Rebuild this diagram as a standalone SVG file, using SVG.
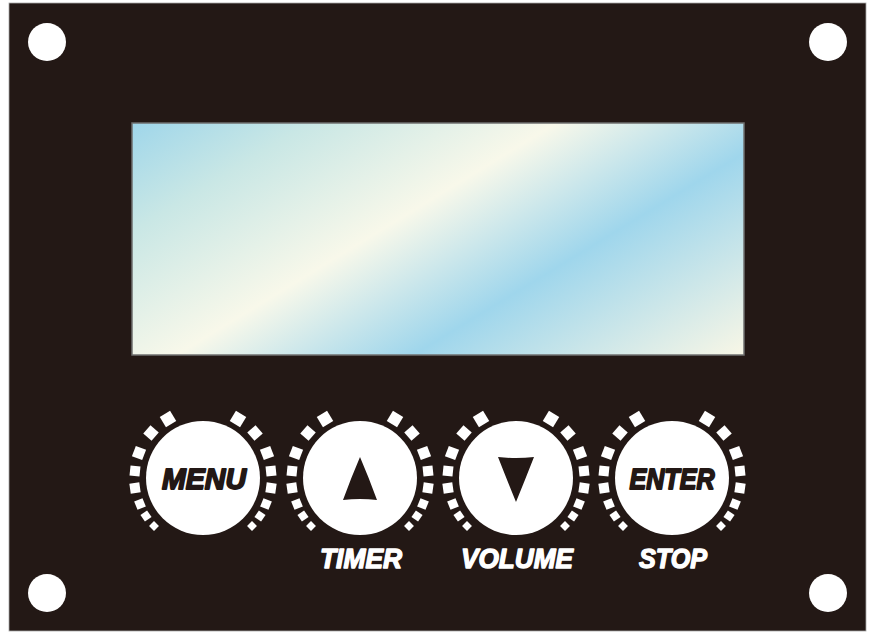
<svg xmlns="http://www.w3.org/2000/svg" width="871" height="637" viewBox="0 0 871 637">
<style>
.hole{fill:#ffffff}
.knob{fill:#ffffff}
.dot{fill:#ffffff}
.key{font-family:"Liberation Sans",Arial,sans-serif;font-weight:bold;font-style:italic;fill:#231815;stroke:#231815;stroke-width:1.8;stroke-linejoin:round;text-anchor:middle}
.lbl{font-family:"Liberation Sans",Arial,sans-serif;font-weight:bold;font-style:italic;fill:#ffffff;stroke:#ffffff;stroke-width:1.4;stroke-linejoin:round;text-anchor:middle}
</style>
<defs>
<linearGradient id="lcd" gradientUnits="userSpaceOnUse" x1="132" y1="123" x2="400" y2="562">
<stop offset="0" stop-color="#9fd6ea"/>
<stop offset="0.18" stop-color="#c9e7e5"/>
<stop offset="0.43" stop-color="#f8f8ea"/>
<stop offset="0.67" stop-color="#9fd6ec"/>
<stop offset="1" stop-color="#f7f6e6"/>
</linearGradient>
<g id="dots">
<rect class="dot" x="-6" y="-6" width="12" height="12" transform="translate(-35,-59) rotate(-31)"/>
<rect class="dot" x="-5.5" y="-5.5" width="11" height="11" transform="translate(-52,-45) rotate(41)"/>
<rect class="dot" x="-5.5" y="-5.5" width="11" height="11" transform="translate(-64,-25) rotate(21)"/>
<rect class="dot" x="-5" y="-5" width="10" height="10" transform="translate(-68,-7) rotate(6)"/>
<rect class="dot" x="-5" y="-5" width="10" height="10" transform="translate(-68,10) rotate(-8)"/>
<rect class="dot" x="-4.5" y="-4.5" width="9" height="9" transform="translate(-63,26) rotate(-22)"/>
<rect class="dot" x="-4" y="-4" width="8" height="8" transform="translate(-57,38) rotate(-34)"/>
<rect class="dot" x="-3.5" y="-3.5" width="7" height="7" transform="translate(-49,48) rotate(45)"/>
<rect class="dot" x="-6" y="-6" width="12" height="12" transform="translate(35,-59) rotate(31)"/>
<rect class="dot" x="-5.5" y="-5.5" width="11" height="11" transform="translate(52,-45) rotate(-41)"/>
<rect class="dot" x="-5.5" y="-5.5" width="11" height="11" transform="translate(64,-25) rotate(-21)"/>
<rect class="dot" x="-5" y="-5" width="10" height="10" transform="translate(68,-7) rotate(-6)"/>
<rect class="dot" x="-5" y="-5" width="10" height="10" transform="translate(68,10) rotate(8)"/>
<rect class="dot" x="-4.5" y="-4.5" width="9" height="9" transform="translate(63,26) rotate(22)"/>
<rect class="dot" x="-4" y="-4" width="8" height="8" transform="translate(57,38) rotate(34)"/>
<rect class="dot" x="-3.5" y="-3.5" width="7" height="7" transform="translate(49,48) rotate(-45)"/>
</g>
</defs>
<rect x="0" y="0" width="871" height="637" fill="#ffffff"/>
<g id="panel">
<rect x="9" y="3" width="857" height="628" fill="#231815" stroke="#a8a8a8" stroke-width="0.8"/>
<circle class="hole" cx="47" cy="42" r="19"/>
<circle class="hole" cx="828" cy="42" r="19"/>
<circle class="hole" cx="47" cy="593" r="19"/>
<circle class="hole" cx="828" cy="593" r="19"/>
</g>
<g id="lcd-screen">
<rect x="132" y="123" width="612" height="232" fill="url(#lcd)" stroke="#6f6f6f" stroke-width="1.5"/>
</g>
<g id="btn-menu" transform="translate(203,478)">
<use href="#dots"/>
<circle class="knob" cx="0" cy="0" r="57"/>
<text class="key" x="1" y="11" font-size="30" textLength="84" lengthAdjust="spacingAndGlyphs">MENU</text>
</g>
<g id="btn-up" transform="translate(360,478)">
<use href="#dots"/>
<circle class="knob" cx="0" cy="0" r="57"/>
<path d="M0,-21 Q-9,0 -17,22 Q0,20 17,22 Q9,0 0,-21 Z" fill="#231815"/>
</g>
<g id="btn-down" transform="translate(516,478)">
<use href="#dots"/>
<circle class="knob" cx="0" cy="0" r="57"/>
<path d="M-18,-21 Q0,-19 18,-21 Q9,2 0,24 Q-9,2 -18,-21 Z" fill="#231815"/>
</g>
<g id="btn-enter" transform="translate(672,478)">
<use href="#dots"/>
<circle class="knob" cx="0" cy="0" r="57"/>
<text class="key" x="0" y="11" font-size="29" textLength="85" lengthAdjust="spacingAndGlyphs">ENTER</text>
</g>
<g id="labels">
<text class="lbl" x="361" y="568" font-size="28" textLength="82" lengthAdjust="spacingAndGlyphs">TIMER</text>
<text class="lbl" x="517" y="568" font-size="28" textLength="112" lengthAdjust="spacingAndGlyphs">VOLUME</text>
<text class="lbl" x="673" y="568" font-size="28" textLength="68" lengthAdjust="spacingAndGlyphs">STOP</text>
</g>
</svg>
